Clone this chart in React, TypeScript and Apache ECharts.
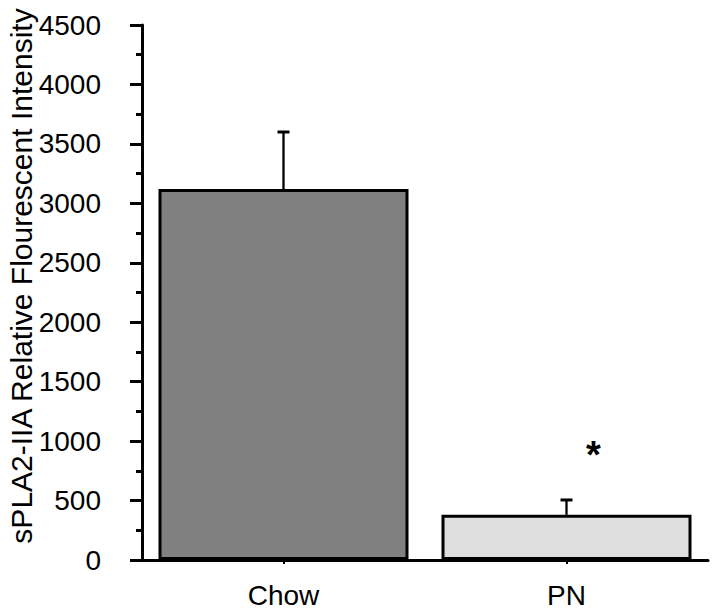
import React, { useEffect, useRef } from "react";
import * as echarts from "echarts";

const categories = ["Chow", "PN"];
const means = [3120, 380];
const errorTops = [3600, 505];
const barColors = ["#808080", "#dedede"];
const significance = [{ category: "PN", value: 930, mark: "*" }];
const yTitle = "sPLA2-IIA Relative Flourescent Intensity";

export default function App() {
  const ref = useRef<HTMLDivElement>(null);
  useEffect(() => {
    if (!ref.current) return;
    const chart = echarts.init(ref.current, null, { renderer: "svg" });
    const font = "Liberation Sans, Arial, Helvetica, sans-serif";
    chart.setOption({
      animation: false,
      backgroundColor: "#ffffff",
      grid: { left: 142, right: 8, top: 25, bottom: 55, containLabel: false },
      xAxis: {
        type: "category",
        data: categories,
        axisLine: { lineStyle: { color: "#000", width: 3 } },
        axisTick: { show: true, alignWithLabel: true, length: 4, lineStyle: { color: "#000", width: 2 } },
        axisLabel: { color: "#000", fontSize: 28, fontFamily: font, margin: 21 },
        splitLine: { show: false },
      },
      yAxis: {
        type: "value",
        min: 0,
        max: 4500,
        interval: 500,
        axisLine: { show: true, lineStyle: { color: "#000", width: 3 } },
        axisTick: { show: true, length: 12, lineStyle: { color: "#000", width: 3 } },
        minorTick: { show: true, splitNumber: 2, length: 6, lineStyle: { color: "#000", width: 3 } },
        axisLabel: {
          color: "#000",
          fontSize: 28,
          fontFamily: font,
          margin: 41,
          formatter: (v: number) => String(v),
        },
        splitLine: { show: false },
      },
      graphic: [
        {
          type: "text",
          x: 21,
          y: 276,
          rotation: Math.PI / 2,
          style: {
            text: yTitle,
            fontSize: 30,
            fontFamily: font,
            fill: "#000",
            align: "center",
            verticalAlign: "middle",
          },
        },
      ],
      series: [
        {
          type: "bar",
          barWidth: 250,
          data: means.map((v, i) => ({
            value: v,
            itemStyle: { color: barColors[i], borderColor: "#000", borderWidth: 3 },
          })),
          z: 3,
        },
        {
          type: "custom",
          z: 2,
          data: categories.map((c, i) => [i, means[i], errorTops[i]]),
          renderItem: (params: any, api: any) => {
            const x = api.value(0);
            const base = api.coord([x, api.value(1)]);
            const top = api.coord([x, api.value(2)]);
            return {
              type: "group",
              children: [
                {
                  type: "line",
                  shape: { x1: base[0], y1: base[1], x2: top[0], y2: top[1] },
                  style: { stroke: "#000", lineWidth: 2.3 },
                },
                {
                  type: "line",
                  shape: { x1: top[0] - 6, y1: top[1], x2: top[0] + 6, y2: top[1] },
                  style: { stroke: "#000", lineWidth: 3 },
                },
              ],
            };
          },
        },
        {
          type: "custom",
          z: 4,
          data: significance.map((s) => [categories.indexOf(s.category), s.value, s.mark]),
          renderItem: (params: any, api: any) => {
            const p = api.coord([api.value(0), api.value(1)]);
            const idx = params.dataIndex;
            return {
              type: "text",
              x: p[0] + 27,
              y: p[1] + 6,
              style: {
                text: significance[idx].mark,
                fontSize: 38,
                fontWeight: "bold",
                fontFamily: font,
                fill: "#000",
                align: "center",
                verticalAlign: "middle",
              },
            };
          },
        },
      ],
    });
    return () => chart.dispose();
  }, []);
  return (
    <div
      ref={ref}
      style={{ position: "absolute", left: 0, top: 0, width: 716, height: 615 }}
    />
  );
}
